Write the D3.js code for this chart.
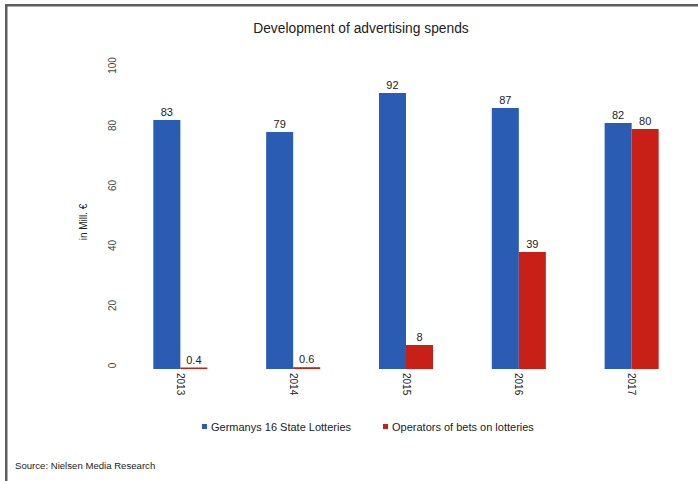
<!DOCTYPE html>
<html>
<head>
<meta charset="utf-8">
<script src="https://cdn.jsdelivr.net/npm/d3@7"></script>
<style>
  html, body { margin: 0; padding: 0; background: #fff; }
  svg { display: block; font-family: "Liberation Sans", Arial, sans-serif; }
</style>
</head>
<body>
<svg id="chart" width="698" height="481"></svg>
<script>
const years = ["2013", "2014", "2015", "2016", "2017"];
const seriesNames = ["Germanys 16 State Lotteries", "Operators of bets on lotteries"];
const stateLotteries = [83, 79, 92, 87, 82];
const betOperators = [0.4, 0.6, 8, 39, 80];
const valueLabels = [
  ["83", "79", "92", "87", "82"],
  ["0.4", "0.6", "8", "39", "80"]
];
const yTicks = [0, 20, 40, 60, 80, 100];
const colors = ["#2b5cb4", "#c81f17"];
const titleText = "Development of advertising spends";
const yTitle = "in Mill. €";
const sourceText = "Source: Nielsen Media Research";

const svg = d3.select("#chart");

// frame (top and left border)
svg.append("rect").attr("x", 5).attr("y", 4).attr("width", 693).attr("height", 2.5).attr("fill", "#5e5e5e");
svg.append("rect").attr("x", 5).attr("y", 4).attr("width", 2.5).attr("height", 477).attr("fill", "#5e5e5e");

const x0 = d3.scaleBand().domain(years).range([124, 688]).paddingInner(0.521).paddingOuter(0.26);
const x1 = d3.scaleBand().domain([0, 1]).range([0, x0.bandwidth()]);
const y = d3.scaleLinear().domain([0, 100]).range([369, 69]);

svg.append("text")
  .attr("x", 361).attr("y", 33)
  .attr("text-anchor", "middle")
  .attr("font-size", 13.8)
  .attr("fill", "#222")
  .text(titleText);

// y axis (labels only)
const yAxis = d3.axisLeft(y).tickValues(yTicks).tickSize(0).tickPadding(0);
const yg = svg.append("g").attr("transform", "translate(116,0)").call(yAxis);
yg.select(".domain").remove();
yg.selectAll(".tick text")
  .attr("transform", "rotate(-90)")
  .attr("x", 0).attr("dx", 4).attr("dy", 0)
  .attr("text-anchor", "middle")
  .attr("font-size", 10)
  .attr("font-family", "Liberation Sans, Arial, sans-serif")
  .attr("fill", "#444");

svg.append("text")
  .attr("transform", "translate(87,222) rotate(-90)")
  .attr("text-anchor", "middle")
  .attr("font-size", 10)
  .attr("fill", "#222")
  .text(yTitle);

// x axis (labels only)
const xAxis = d3.axisBottom(x0).tickSize(0).tickPadding(0);
const xg = svg.append("g").attr("transform", "translate(0,369)").call(xAxis);
xg.select(".domain").remove();
xg.selectAll(".tick text")
  .attr("transform", "rotate(90)")
  .attr("x", 4).attr("y", 0).attr("dy", "0.35em")
  .attr("text-anchor", "start")
  .attr("font-size", 10)
  .attr("font-family", "Liberation Sans, Arial, sans-serif")
  .attr("fill", "#222");

// bars
const data = [stateLotteries, betOperators];
data.forEach((vals, s) => {
  const g = svg.append("g");
  g.selectAll("rect").data(years).enter().append("rect")
    .attr("x", (d) => x0(d) + x1(s))
    .attr("width", x1.bandwidth())
    .attr("y", (d, i) => Math.min(y(vals[i]), y(0) - 1.5))
    .attr("height", (d, i) => Math.max(y(0) - y(vals[i]), 1.5))
    .attr("fill", colors[s]);
  g.selectAll("text").data(years).enter().append("text")
    .attr("x", (d) => x0(d) + x1(s) + x1.bandwidth() / 2)
    .attr("y", (d, i) => y(vals[i]) - 4)
    .attr("text-anchor", "middle")
    .attr("font-size", 11)
    .attr("fill", "#222")
    .text((d, i) => valueLabels[s][i]);
});

// legend
const legendX = [202, 383];
seriesNames.forEach((name, s) => {
  svg.append("rect").attr("x", legendX[s]).attr("y", 424).attr("width", 5).attr("height", 5).attr("fill", colors[s]);
  svg.append("text")
    .attr("x", legendX[s] + 9).attr("y", 431)
    .attr("font-size", 11)
    .attr("fill", "#222")
    .text(name);
});

svg.append("text")
  .attr("x", 15).attr("y", 469)
  .attr("font-size", 9.6)
  .attr("fill", "#222")
  .text(sourceText);
</script>
</body>
</html>
